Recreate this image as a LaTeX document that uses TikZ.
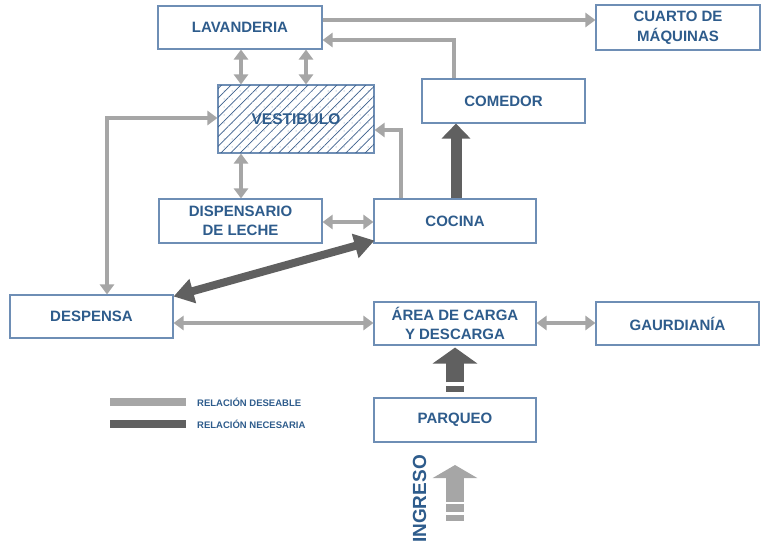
\documentclass[tikz,border=0pt]{standalone}
\usepackage{fontspec}
\setmainfont{Liberation Sans}
\usetikzlibrary{arrows.meta,patterns.meta,calc}
\definecolor{txtblue}{RGB}{46,92,140}
\definecolor{boxblue}{RGB}{110,142,181}
\definecolor{hatchblue}{RGB}{60,95,140}
\definecolor{ltgray}{RGB}{166,166,166}
\definecolor{dkgray}{RGB}{96,96,96}
\tikzset{
  room/.style={draw=boxblue, line width=1.1pt, fill=white, inner sep=0pt, align=center,
    text=txtblue, font=\bfseries\fontsize{15}{19.5}\selectfont},
  desire/.style={draw=ltgray, line width=4pt},
  dtip/.style={-{Triangle[width=14pt,length=10pt]}},
  ddtip/.style={{Triangle[width=14pt,length=10pt]}-{Triangle[width=14pt,length=10pt]}},
  need/.style={draw=dkgray},
  legtxt/.style={anchor=west, text=txtblue, font=\bfseries\fontsize{9.5}{11}\selectfont, inner sep=0pt},
}
\begin{document}
\begin{tikzpicture}[x=1pt,y=-1pt]
\useasboundingbox (0,0) rectangle (765,547);
% rooms
\node[room, minimum width=164pt, minimum height=43pt] (lav) at (240,27.5) {LAVANDERIA};
\node[room, minimum width=164pt, minimum height=45pt] (cuarto) at (678,27.5) {CUARTO DE\\MÁQUINAS};
\node[room, minimum width=156pt, minimum height=68pt, fill=white] (vest) at (296,119) {};
\fill[pattern={Lines[angle=45,distance=6.8pt,line width=0.7pt]}, pattern color=hatchblue]
  (vest.north west) rectangle (vest.south east);
\fill[pattern={Dots[distance=8pt,radius=0.5pt]}, pattern color=hatchblue!75]
  (vest.north west) rectangle (vest.south east);
\draw[boxblue, line width=1.1pt] (vest.north west) rectangle (vest.south east);
\node[text=txtblue, font=\bfseries\fontsize{15.5}{19.5}\selectfont] (vestlbl) at (vest.center) {VESTIBULO};
\node[room, minimum width=163pt, minimum height=44pt] (com) at (503.5,101) {COMEDOR};
\node[room, minimum width=163pt, minimum height=44pt] (disp) at (240.5,221) {DISPENSARIO\\DE LECHE};
\node[room, minimum width=162pt, minimum height=44pt] (coc) at (455,221) {COCINA};
\node[room, minimum width=163pt, minimum height=43pt] (desp) at (91.5,316.5) {DESPENSA};
\node[room, minimum width=162pt, minimum height=43pt] (area) at (455,323.5) {ÁREA DE CARGA\\Y DESCARGA};
\node[room, minimum width=163pt, minimum height=43pt] (gaur) at (677.5,323.5) {GAURDIANÍA};
\node[room, minimum width=162pt, minimum height=44pt] (parq) at (455,420) {PARQUEO};

% desirable relations
\draw[desire,dtip] (lav.east |- 0,20) -- (cuarto.west |- 0,20);
\draw[desire,dtip] (com.north -| 454,0) |- (lav.east |- 0,40);
\draw[desire,ddtip] (lav.south -| 241,0) -- (vest.north -| 241,0);
\draw[desire,ddtip] (lav.south -| 306,0) -- (vest.north -| 306,0);
\draw[desire,ddtip] (desp.north -| 107,0) |- (vest.west |- 0,118);
\draw[desire,dtip] (coc.north -| 401,0) |- (vest.east |- 0,130);
\draw[desire,ddtip] (vest.south -| 241,0) -- (disp.north -| 241,0);
\draw[desire,ddtip] (disp.east |- 0,222) -- (coc.west |- 0,222);
\draw[desire,ddtip] (desp.east |- 0,323) -- (area.west |- 0,323);
\draw[desire,ddtip] (area.east |- 0,323) -- (gaur.west |- 0,323);

% necessary relations
\draw[need, line width=11pt, -{Triangle[width=28pt,length=15pt]}] (coc.north -| 456,0) -- (com.south -| 456,0);
\draw[need, line width=8pt, {Triangle[width=24pt,length=20pt]}-{Triangle[width=24pt,length=20pt]}]
  ([yshift=-2pt]desp.north east) -- ([xshift=1pt,yshift=3pt]coc.south west);
% parqueo -> area block arrow
\coordinate (pa1) at ($(parq.north)+(0,-15)$);
\draw[need, line width=18pt, -{Triangle[width=44pt,length=16pt]}] (pa1) -- ([yshift=-2pt]area.south);
\fill[dkgray] ($(parq.north)+(-9,-5)$) rectangle ($(parq.north)+(9,-11)$);

% ingreso arrow
\coordinate (in0) at (455,502);
\coordinate (in1) at (455,465);
\draw[ltgray, line width=18pt, -{Triangle[width=44pt,length=13pt]}] (in0) -- (in1);
\fill[ltgray] (446,504) rectangle (464,512);
\fill[ltgray] (446,515) rectangle (464,521);
\node[rotate=90, text=txtblue, font=\bfseries\fontsize{19}{22}\selectfont, inner sep=0pt] (ingreso) at (419.5,499) {INGRESO};

% legend
\fill[ltgray] (110,398) rectangle (186,406);
\fill[dkgray] (110,420) rectangle (186,428);
\node[legtxt] (l1) at (197,402) {RELACIÓN DESEABLE};
\node[legtxt] (l2) at (197,424.5) {RELACIÓN NECESARIA};
\end{tikzpicture}
\end{document}
